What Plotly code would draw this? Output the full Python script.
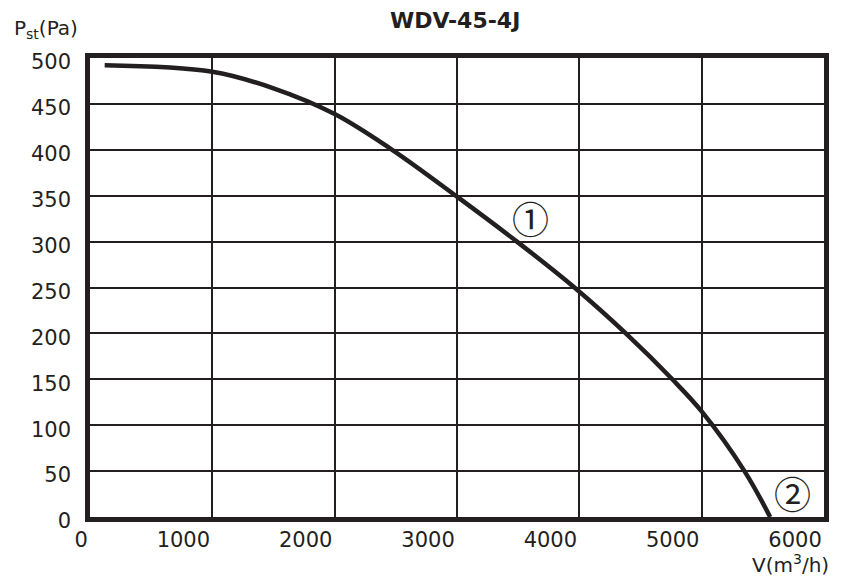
import plotly.graph_objects as go

# Data
flow_m3h = [120, 1000, 1500, 2000, 2470, 3000, 3490, 3960, 4380, 4760, 5000, 5350, 5560]
pressure_pa = [492, 485, 467, 439, 400, 349, 300, 250, 200, 150, 115, 50, 0]

x_ticks = [0, 1000, 2000, 3000, 4000, 5000, 6000]
y_ticks = [0, 50, 100, 150, 200, 250, 300, 350, 400, 450, 500]

title_text = "WDV-45-4J"
x_title = "V(m<sup>3</sup>/h)"
y_title = "P<sub>st</sub>(Pa)"
markers = [("①", 3604, 326), ("②", 5743, 26)]

INK = "#231f20"
FONT = "DejaVu Sans"

W, H = 841, 578
OFF = 8  # page body margin offset
# target plot frame in screen pixels
SL, ST, SR, SB = 90, 58, 824, 517
L, T = SL - OFF, ST - OFF
R, B = W - (SR - OFF), H - (SB - OFF)
pw, ph = W - L - R, H - T - B


def paper(px, py):
    fx, fy = px - OFF, py - OFF
    return (fx - L) / pw, 1 - (fy - T) / ph


fig = go.Figure()
fig.add_trace(go.Scatter(
    x=flow_m3h, y=pressure_pa, mode="lines",
    line=dict(color=INK, width=4.5, shape="spline", smoothing=1.0),
    showlegend=False, hoverinfo="skip",
))

for txt, xv, yv in markers:
    fig.add_annotation(x=xv, y=yv, xref="x", yref="y", text=txt, showarrow=False,
                       xanchor="center", yanchor="middle",
                       font=dict(family="Noto Sans CJK SC", size=37, color=INK))

tx, ty = paper(455, 21)
fig.add_annotation(x=tx, y=ty, xref="paper", yref="paper", text="<b>" + title_text + "</b>",
                   showarrow=False, xanchor="center", yanchor="middle",
                   font=dict(family=FONT, size=22, color=INK))
ax_, ay_ = paper(46, 29)
fig.add_annotation(x=ax_, y=ay_, xref="paper", yref="paper", text=y_title,
                   showarrow=False, xanchor="center", yanchor="middle",
                   font=dict(family=FONT, size=20, color=INK))
bx, by = paper(831, 564)
fig.add_annotation(x=bx, y=by, xref="paper", yref="paper", text=x_title,
                   showarrow=False, xanchor="right", yanchor="middle",
                   font=dict(family=FONT, size=20, color=INK))

fig.update_layout(
    width=W, height=H,
    margin=dict(l=L, r=R, t=T, b=B, pad=0),
    paper_bgcolor="white", plot_bgcolor="white",
    font=dict(family=FONT, size=21, color=INK),
)

fig.update_xaxes(
    range=[0, 6000], tickvals=x_ticks, ticktext=[str(v) for v in x_ticks],
    showgrid=True, gridcolor=INK, gridwidth=1.5,
    showline=True, linecolor=INK, linewidth=4.5, mirror=True,
    ticks="", ticklabelposition="outside left", ticklabelstandoff=0,
    zeroline=False, fixedrange=True,
)
fig.update_yaxes(
    range=[0, 500], tickvals=y_ticks, ticktext=[str(v) for v in y_ticks],
    showgrid=True, gridcolor=INK, gridwidth=1.5,
    showline=True, linecolor=INK, linewidth=4.5, mirror=True,
    ticks="", ticklabelstandoff=10, ticklabelshift=4,
    zeroline=False, fixedrange=True,
)

fig.write_html("out.html")
